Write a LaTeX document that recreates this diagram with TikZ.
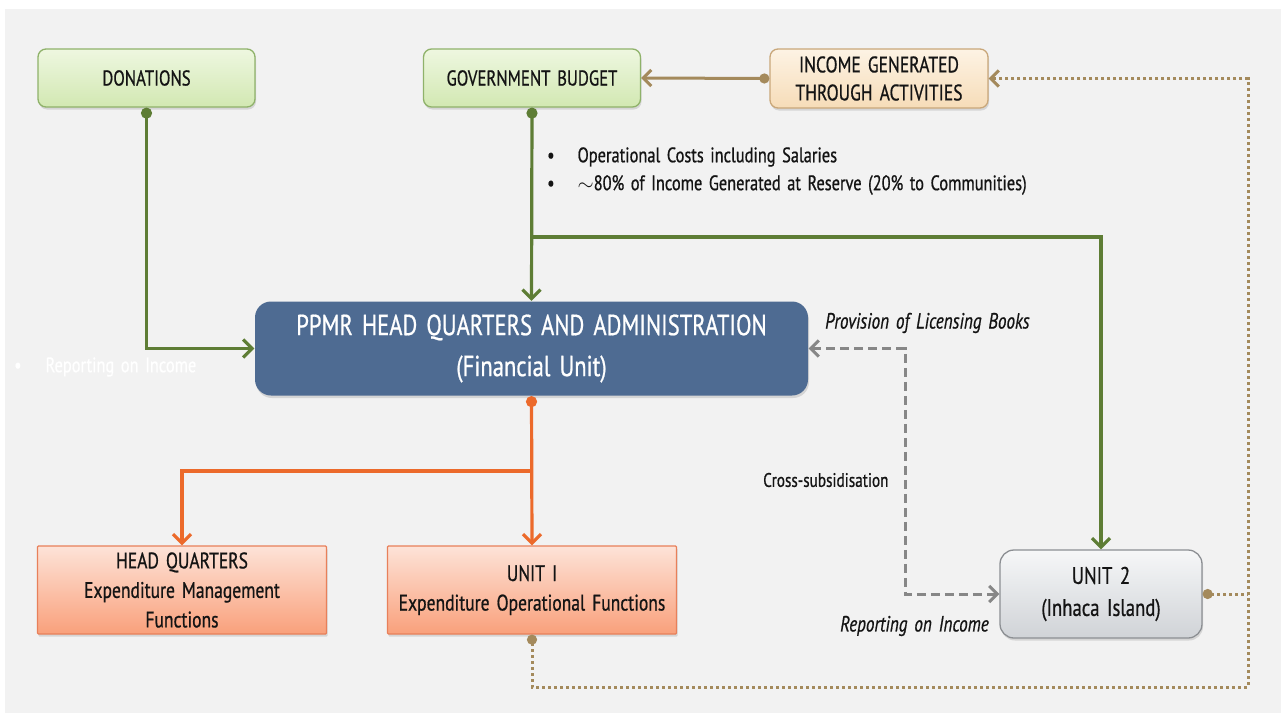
\documentclass[tikz,border=0pt]{standalone}
\usepackage{fontspec}
\setmainfont{PT Sans}[FakeStretch=0.78,WordSpace=1.5,FakeBold=0.7]
\usetikzlibrary{arrows.meta,shadows}
\definecolor{bgpanel}{HTML}{F2F2F2}
\definecolor{grn}{HTML}{5E7D35}
\definecolor{grnbord}{HTML}{8FB26A}
\definecolor{grntop}{HTML}{EEF7E0}
\definecolor{grnbot}{HTML}{D2E8B2}
\definecolor{inctop}{HTML}{FDF3E4}
\definecolor{incbot}{HTML}{F6DCB8}
\definecolor{incbord}{HTML}{C9A77A}
\definecolor{brn}{HTML}{A48A5C}
\definecolor{ppmrblue}{HTML}{4E6B92}
\definecolor{orng}{HTML}{EC6A2B}
\definecolor{ortop}{HTML}{FDE3D8}
\definecolor{orbot}{HTML}{F9A07B}
\definecolor{orbord}{HTML}{E8805A}
\definecolor{gytop}{HTML}{F6F7F8}
\definecolor{gybot}{HTML}{D0D3D7}
\definecolor{gybord}{HTML}{8C8F93}
\definecolor{dgray}{HTML}{878787}
\definecolor{txt}{HTML}{141414}
\tikzset{
  box/.style={draw, line width=1.3pt, align=center, inner sep=0pt, text=txt,
    drop shadow={opacity=0.25, shadow xshift=1pt, shadow yshift=-2.5pt}},
  greenbox/.style={box, rounded corners=8pt, draw=grnbord, top color=grntop, bottom color=grnbot,
    minimum width=217pt, minimum height=58pt, font=\fontsize{21.5}{28}\selectfont},
  incbox/.style={box, rounded corners=8pt, draw=incbord, top color=inctop, bottom color=incbot,
    minimum width=218pt, minimum height=59pt, font=\fontsize{22.5}{28}\selectfont},
  orbox/.style={box, rounded corners=1pt, draw=orbord, top color=ortop, bottom color=orbot,
    minimum width=289pt, minimum height=88pt, font=\fontsize{22.5}{29.5}\selectfont},
  ppmrbox/.style={box, rounded corners=16pt, draw=none, fill=ppmrblue, text=white,
    minimum width=553pt, minimum height=94pt, font=\fontsize{29}{41}\selectfont},
  u2box/.style={box, rounded corners=14pt, draw=gybord, top color=gytop, bottom color=gybot,
    minimum width=202pt, minimum height=88pt, font=\fontsize{24}{32}\selectfont},
  garrow/.style={draw=grn, line width=3.2pt, -{Straight Barb[length=9pt,width=18pt,line width=3.2pt]}},
  gdot/.style={{Circle[length=11pt]}-{Straight Barb[length=9pt,width=18pt,line width=3.2pt]}},
  oarrow/.style={draw=orng, line width=3.2pt, -{Straight Barb[length=9pt,width=18pt,line width=3.2pt]}},
  barrow/.style={draw=brn, line width=3pt},
  bdot/.style={draw=brn, line width=3pt, dash pattern=on 3pt off 3pt},
  darrow/.style={draw=dgray, line width=3pt, dash pattern=on 9pt off 5pt,
    {Straight Barb[length=8pt,width=16pt,line width=3pt]}-{Straight Barb[length=8pt,width=16pt,line width=3pt]}},
  lbl/.style={font=\fontsize{21}{24}\selectfont, inner sep=0pt, text=txt},
  clbl/.style={font=\fontsize{19.5}{24}\selectfont, inner sep=0pt, text=txt},
  ilbl/.style={font=\fontsize{22}{24}\selectfont\itshape, inner sep=0pt, text=txt},
}
\begin{document}
\begin{tikzpicture}[x=1pt,y=-1pt]
\useasboundingbox (0,0) rectangle (1285,715);
\fill[white] (0,0) rectangle (1285,715);
\fill[bgpanel] (5,9) rectangle (1281,713);

% boxes
\node[greenbox] (don) at (146.5,78) {DONATIONS};
\node[greenbox] (gov) at (532,78) {GOVERNMENT BUDGET};
\node[incbox] (inc) at (879,78.5) {INCOME GENERATED\\THROUGH ACTIVITIES};
\node[ppmrbox] (ppmr) at (531.5,348.5) {PPMR HEAD QUARTERS AND ADMINISTRATION\\(Financial Unit)};
\node[orbox] (hq) at (182,590) {HEAD QUARTERS\\Expenditure Management\\Functions};
\node[orbox] (u1) at (532,590) {UNIT I\\Expenditure Operational Functions};
\node[u2box] (u2) at (1101,594) {UNIT 2\\(Inhaca Island)};

% coordinates
\coordinate (gb) at (532,237);
\coordinate (ob) at (532,471);
\coordinate (gd) at (905,348.5);
\coordinate (bt) at (1248,78.5);
\coordinate (bb) at (1248,687);

% green
\draw[garrow, gdot] (don.south) |- (ppmr.west);
\draw[garrow, gdot] (gov.south) -- (ppmr.north);
\draw[garrow] (gb) -| (u2.north);
% brown
\draw[barrow, {Circle[length=10pt]}-{Straight Barb[length=8pt,width=16pt,line width=3pt]}] (inc.west) -- (gov.east);
\draw[bdot, {Circle[length=10pt,sep=0pt]}-{Straight Barb[length=8pt,width=16pt,line width=3pt]}] (u1.south) |- (bb) -- (bt) -- (inc.east);
\draw[bdot, {Circle[length=10pt]}-] (u2.east) -- (u2.east -| bt);
% orange
\draw[oarrow, {Circle[length=11pt]}-{Straight Barb[length=9pt,width=18pt,line width=3.2pt]}] (ppmr.south) -- (u1.north);
\draw[oarrow] (ob) -| (hq.north);
% gray dashed
\draw[darrow] (ppmr.east) -- (gd) |- (u2.west);

% labels
\node[lbl, anchor=west] (b1) at (547,157) {\textbullet\hspace{23pt}Operational Costs including Salaries};
\node[lbl, anchor=west] (b2) at (547,185) {\textbullet\hspace{23pt}$\sim$80\% of Income Generated at Reserve (20\% to Communities)};
\node[ilbl, anchor=west] (prov) at (825,323) {Provision of Licensing Books};
\node[clbl, anchor=west] (cross) at (763,480) {Cross-subsidisation};
\node[ilbl, anchor=west] (rep) at (840,626) {Reporting on Income};
\node[lbl, anchor=west, text=white] (faint) at (14,367) {\textbullet\hspace{24pt}Reporting on Income};
\end{tikzpicture}
\end{document}
